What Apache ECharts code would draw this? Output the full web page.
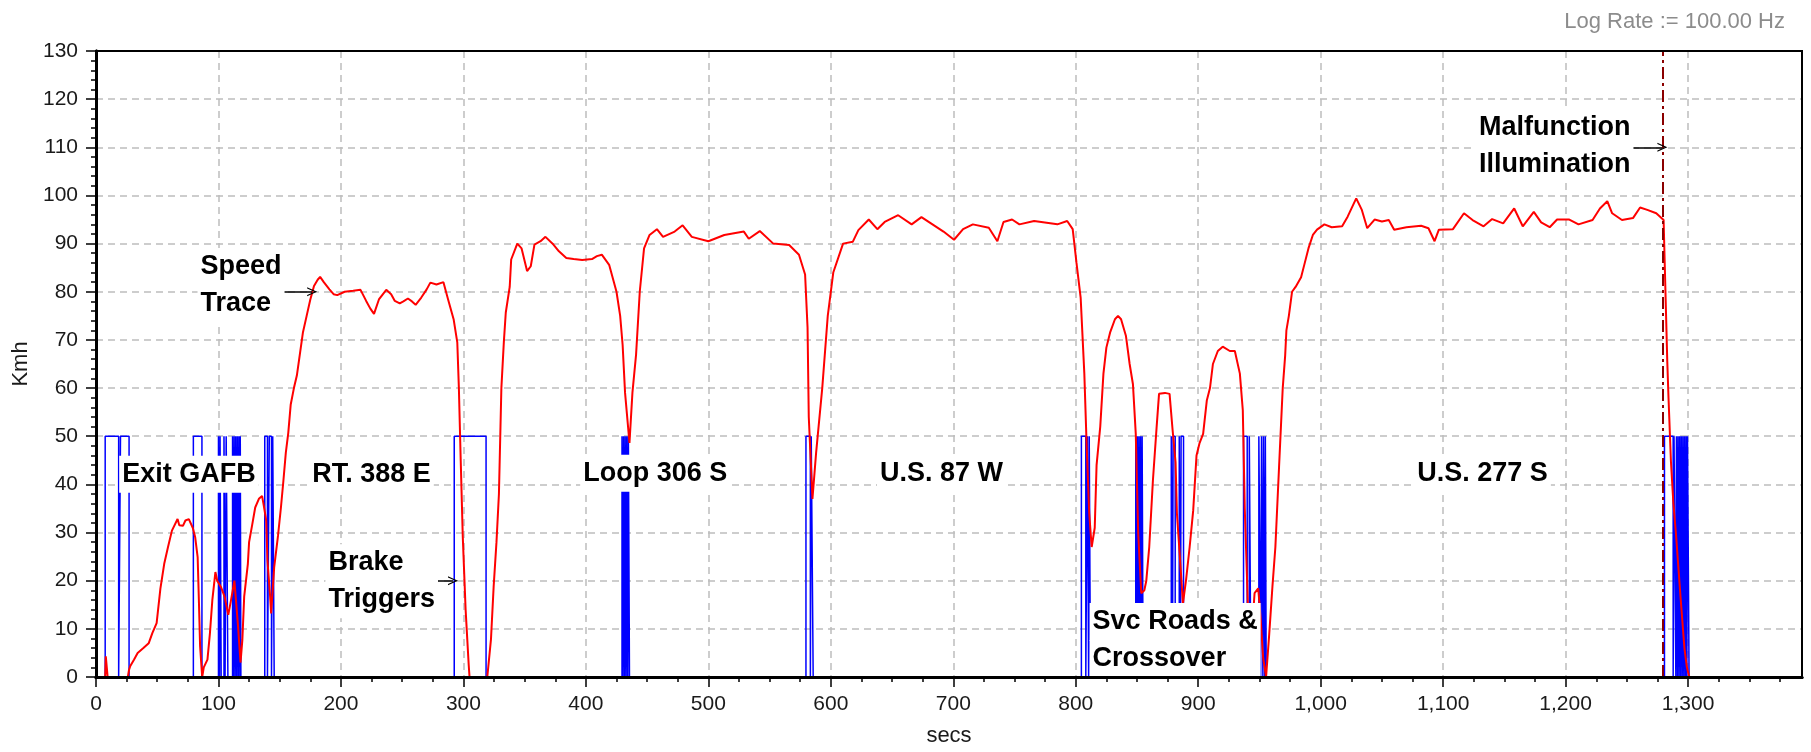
<!DOCTYPE html>
<html>
<head>
<meta charset="utf-8">
<script src="https://cdn.jsdelivr.net/npm/echarts@6/dist/echarts.min.js"></script>
<style>
html,body{margin:0;padding:0;background:#fff;}
#chart{width:1811px;height:752px;}
</style>
</head>
<body>
<div id="chart"></div>
<script>
// ---- data ----
const xMax = 1393;
const yMax = 130;
const xMajorTicks = [0,100,200,300,400,500,600,700,800,900,1000,1100,1200,1300];
const xMinorTicks = [25,50,75,125,150,175,225,250,275,325,350,375,425,450,475,525,550,575,625,650,675,725,750,775,825,850,875,925,950,975,1025,1050,1075,1125,1150,1175,1225,1250,1275,1325,1350,1375];

// speed trace [secs, Kmh]
const speedTrace = [
[0,0],[7.5,0],[8,4.3],[9,4.3],[9.5,0],[26,0],[27,1.5],[28,2.3],[31,3.6],[34,5],[38.7,6],[43,7],[46,9.1],[49.5,11.2],
[52.6,18.4],[55.7,23.5],[58.8,27],[62,30.4],[66.6,32.8],[68,31.5],[71,31.4],[73,32.5],[75.8,32.8],[79,31],[81,29],
[83,24.9],[84,16],[85,6.4],[86.7,0],[88,2],[91,3.6],[93,9],[95,16],[97.5,21.8],[99,20],[102,18.7],[105,16.7],
[108,12.9],[110,15.6],[113,20],[116,10.5],[118,3],[119.5,7.7],[121,16.7],[124,23.5],[125,28],[127.6,31.7],[130,35.2],
[133,37],[135.6,37.6],[137,35.6],[139,32.5],[140,24.2],[142,17.4],[143,13.2],[145.5,22.8],[148.6,29.3],[151,35.2],
[153,40.7],[155,46.6],[157,50.7],[159,56.6],[161.6,60],[164,62.6],[169,71.6],[172,75],[175,78.4],[178,81.2],[181,82.5],
[183,83.1],[186,82],[190.6,80.5],[194,79.5],[197,79.3],[203,80],[210,80.2],[216,80.4],[220.6,78.1],[224,76.5],[227,75.4],
[231,78.4],[237,80.4],[241,79.5],[244,78.1],[248,77.6],[251,78],[254.7,78.6],[258,78],[261,77.3],[265.6,78.8],[270,80.5],
[273,81.9],[278,81.5],[283.7,82],[287.5,78.4],[292,74.3],[295,69.5],[296.3,60],[297.8,45],[299.5,29],[301.8,14],
[304.3,2.6],[305,0],[319.5,0],[322.5,7.8],[324.7,18.8],[327,28],[329,38],[331,60],[333,69.5],[334.6,75.7],[337.8,81],
[339,86.7],[344,90],[347.5,89],[352,84.3],[355,85.3],[358,89.8],[363,90.5],[367,91.4],[373.5,89.8],[378,88.4],[384,87],
[390,86.8],[397,86.6],[405,86.8],[409,87.4],[413,87.7],[419,85.6],[425,80],[428,75],[430,69],[432,59],[435.6,48.6],
[438,59],[441,67],[444,80],[447.5,89],[452,91.8],[458,93],[463,91.4],[472.5,92.5],[479,93.8],[486.5,91.4],[500,90.5],
[513,91.8],[529,92.5],[533,91],[542,92.6],[553,90],[566,89.7],[574,87.7],[579,83.6],[581,72.6],[582,54],[585,37],
[588,46.6],[593,60],[597.5,75],[602,84],[610,90],[618,90.4],[622.5,92.8],[631,95],[638,93],[644,94.5],[655,95.9],
[666,94],[674,95.5],[683,94],[692,92.5],[700.6,90.8],[708,93],[716,94],[729,93.3],[736,90.5],[741,94.5],[748,95],
[754,94],[766,94.7],[785,94],[793,94.7],[797.5,93],[800.6,86],[804,78.8],[807,63],[809,47.3],[811,34],[813,27],
[815.5,31],[817,44],[820,52],[822.6,63],[825,68.4],[828,71.5],[832,74.3],[834.5,75],[837,74.3],[841,70.8],[844,65],
[846.7,60.8],[849,50.5],[851,29.8],[853.5,17.4],[856,18],[857.6,20],[860,27],[863,40.8],[866,51.8],[868,58.8],
[872.8,59],[876.6,58.8],[879,51.5],[881.5,44.6],[882.6,34],[885,25],[887.5,15.3],[890,20],[893,27],[895.9,34.6],
[898.6,46],[901,48.5],[904,50.5],[907,57.4],[909.6,60],[912,65],[916,67.7],[920,68.6],[925.8,67.7],[929.9,67.7],
[934,63],[936.4,55.4],[938,35],[940.6,14.6],[942,0.5],[944,10],[946,17.4],[949,18.4],[951,12],[953,4],[955.4,0],
[956.5,0],[958,9],[960.6,18.8],[963,27],[966,43.6],[969,60],[971,66.8],[972,72],[974,75],[976.6,80],[979.5,81],
[984,83],[987,86],[990,89],[993.6,91.8],[997,92.9],[1003,94],[1009,93.4],[1017.5,93.6],[1022,95.6],[1029,99.4],
[1033.6,97],[1038,93.2],[1044,95],[1050,94.6],[1055.6,94.9],[1060,92.9],[1070,93.4],[1082,93.7],[1088,93.2],
[1093,90.5],[1096.5,92.9],[1108,93],[1117,96.3],[1124,94.9],[1133,93.6],[1140,95.1],[1149,94.2],[1158,97.3],
[1165,93.6],[1174,96.6],[1180,94.4],[1187,93.4],[1193,95],[1203,95],[1210.5,94],[1222,94.9],[1228,97.3],[1234,98.8],
[1238,96.3],[1246,94.9],[1255,95.3],[1260.8,97.5],[1266.7,97],[1274,96.3],[1280,94.9],[1281,85],[1283,65.5],
[1284,58],[1286,44.7],[1288,36],[1290,30],[1294,16],[1297,6],[1299,2],[1301,0],[1393,0]
];

// brake trigger on-intervals [start, end] in secs (signal level 50 while on)
const brakeLevel = 50;
const brakeOn = [
[7.5,18.5],[20,27],
[79.5,86.5],
[100,100.8],[101.3,102.2],[104.5,105.4],[106.3,107.7],[111.5,112.3],[112.8,113.6],[114.1,114.9],[115.4,116.2],[116.7,117.5],[117.8,118.3],
[137.8,140],[141.5,143.3],[144.3,145.5],
[292.5,318.5],
[429.5,430.3],[430.8,431.6],[432.1,432.9],[433.4,434.2],[434.7,435.6],
[579.7,583.3],[584,585.6],
[804.6,808.2],[809.5,810.5],[811,812],
[849,849.8],[850.3,851.1],[851.6,852.4],[852.9,853.7],[854.2,855],
[878,879],[879.5,881.2],[884.5,885.5],[886,888],
[937,940],[941.7,943],
[949.5,951],[951.7,952.8],[953.3,954.3],[954.8,955.5],
[1280.7,1287.8],[1288.5,1290],[1290.5,1291.3],[1291.8,1292.6],[1293.1,1293.9],[1294.4,1295.2],[1295.7,1296.5],[1297,1297.8],[1298.3,1299],[1299.5,1300.8]
];

const malfunctionAt = 1279.5;

// annotations: text, anchor [secs, Kmh], anchor side
const annotTexts = ['Speed\nTrace','Exit GAFB','RT. 388 E','Brake\nTriggers','Loop 306 S','U.S. 87 W','Svc Roads &\nCrossover','U.S. 277 S','Malfunction\nIllumination'];
const annotAnchors = [[83.3,81.3],[76.3,42],[225.4,42],[187.8,19.8],[457,42.2],[690.8,42.2],[811.7,7.6],[1132.6,42.2],[1127.2,110.2]];
const annotAlign = ['left','center','center','left','center','center','left','center','left'];

// arrows [[x1,y1],[x2,y2]]
const arrows = [
[[128,80],[176.5,80]],
[[238,20],[291.5,20]],
[[1235,110],[1279,110]]
];

const titleText = 'Log Rate := 100.00 Hz';
const xName = 'secs';
const yName = 'Kmh';

// ---- build ----
const brakeData = [[0,0]];
brakeOn.forEach(([a,b]) => { brakeData.push([a,0],[a,brakeLevel],[b,brakeLevel],[b,0]); });
brakeData.push([xMax,0]);

const FONT = 'Liberation Sans';
const annotData = annotTexts.map((t,i) => ({
  value: annotAnchors[i],
  name: t,
  label: { align: annotAlign[i] }
}));

const chart = echarts.init(document.getElementById('chart'), null, {renderer:'canvas'});
const gridDash = {color:'#bdbdbd', width:1.5, type:[7,5]};
const frameAxis = (pos, w) => ({
  type:'value', position:pos, zlevel:1, z:20,
  axisLine:{show:true, onZero:false, lineStyle:{color:'#000', width:w}},
  axisTick:{show:false}, axisLabel:{show:false}, splitLine:{show:false}
});
chart.setOption({
  animation:false,
  backgroundColor:'#fff',
  title:{
    text:titleText, right:21, top:6,
    textStyle:{fontFamily:FONT, fontSize:22, fontWeight:'normal', color:'#8c8c8c'}
  },
  grid:{left:96, right:9, top:51, bottom:71, show:true, borderColor:'#000', borderWidth:2, backgroundColor:'#fff'},
  xAxis:[{
    type:'value', min:0, max:xMax, interval:100,
    name:xName, nameLocation:'middle', nameGap:48,
    nameTextStyle:{fontFamily:FONT, fontSize:22, color:'#1a1a1a'},
    axisLine:{show:true, onZero:false, lineStyle:{color:'#000', width:3}},
    axisTick:{show:true, customValues:xMajorTicks, length:10, lineStyle:{color:'#000', width:1.5}},
    axisLabel:{customValues:xMajorTicks, margin:17, fontFamily:FONT, fontSize:21, color:'#1a1a1a',
      formatter:v => Number(v).toLocaleString('en-US')},
    splitLine:{show:true, lineStyle:gridDash}
  },{
    type:'value', min:0, max:xMax, position:'bottom',
    axisLine:{show:false},
    axisTick:{show:true, customValues:xMinorTicks, length:5, lineStyle:{color:'#000', width:1.5}},
    axisLabel:{show:false},
    splitLine:{show:false}
  },
  Object.assign(frameAxis('top', 2), {min:0, max:xMax}),
  Object.assign(frameAxis('bottom', 3), {min:0, max:xMax})
  ],
  yAxis:[{
    type:'value', min:0, max:yMax, interval:10,
    name:yName, nameLocation:'middle', nameGap:64,
    nameTextStyle:{fontFamily:FONT, fontSize:22, color:'#1a1a1a'},
    axisLine:{show:true, onZero:false, lineStyle:{color:'#000', width:3}},
    axisTick:{show:true, length:10, lineStyle:{color:'#000', width:1.5}},
    minorTick:{show:true, splitNumber:5, length:5, lineStyle:{color:'#000', width:1.5}},
    axisLabel:{margin:18, fontFamily:FONT, fontSize:21, color:'#1a1a1a'},
    splitLine:{show:true, lineStyle:gridDash}
  },
  Object.assign(frameAxis('right', 2), {min:0, max:yMax}),
  Object.assign(frameAxis('left', 3), {min:0, max:yMax})
  ],
  series:[{
    name:'Brake', type:'line', data:brakeData, showSymbol:false, symbol:'none',
    lineStyle:{color:'#0000ff', width:1.5}, z:2, silent:true
  },{
    name:'Speed', type:'line', data:speedTrace, showSymbol:false, symbol:'none',
    lineStyle:{color:'#ff0000', width:2}, z:3, silent:true,
    markLine:{
      silent:true, symbol:['none','none'], animation:false,
      label:{show:false},
      lineStyle:{color:'#8b0000', width:2, type:[12,4,3,4]},
      data:[{xAxis:malfunctionAt}]
    }
  },{
    name:'Annotations', type:'scatter', data:annotData, symbolSize:1,
    itemStyle:{color:'#fff', opacity:1}, z:10, silent:true,
    emphasis:{disabled:true},
    label:{
      show:true, position:[0,0], verticalAlign:'middle', opacity:1,
      formatter:p => p.name,
      fontFamily:FONT, fontSize:27, fontWeight:'bold', color:'#000',
      lineHeight:37, backgroundColor:'#ffffff', padding:[0,3]
    },
    markLine:{
      silent:true, animation:false,
      symbol:['none','path://M0,10 L5,0 L10,10 L8.6,10 L5,2.8 L1.4,10 Z'], symbolSize:[9,10],
      label:{show:false},
      lineStyle:{color:'#000', width:1.5, type:'solid', opacity:1},
      data:arrows.map(([p,q]) => [{coord:p},{coord:q}])
    }
  }]
});
</script>
</body>
</html>
